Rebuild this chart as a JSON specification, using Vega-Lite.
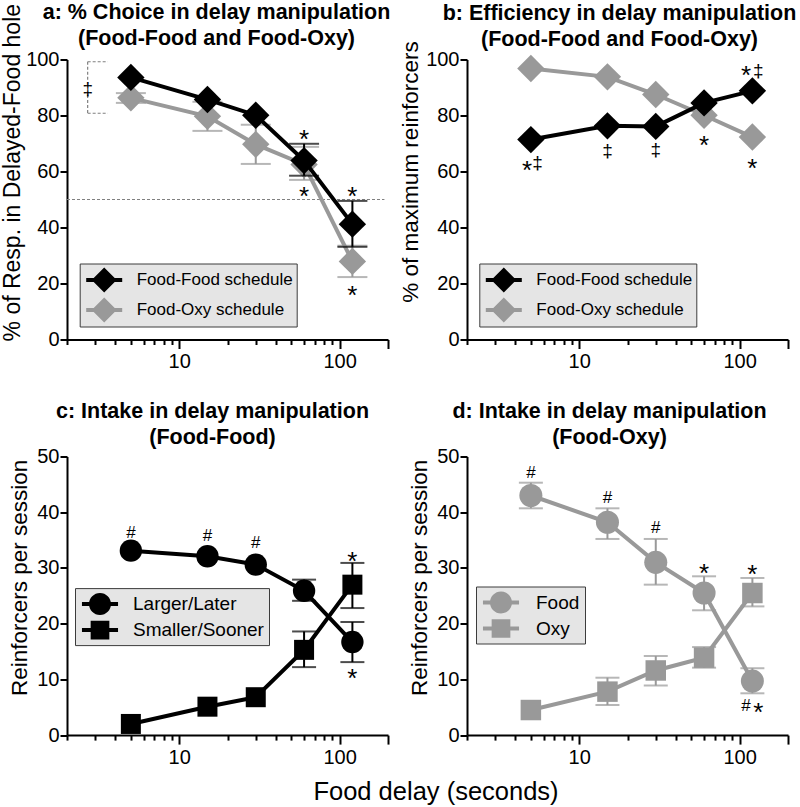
{
  "$schema": "https://vega.github.io/schema/vega-lite/v6.json",
  "padding": {"left": 0, "top": 1.5, "right": 0, "bottom": 0},
  "config": {
    "font": "Liberation Sans",
    "view": {"stroke": null},
    "axis": {"grid": false, "domainColor": "#000000", "domainWidth": 2, "tickColor": "#000000", "tickWidth": 2, "labelColor": "#000000", "titleColor": "#000000", "labelFontSize": 20, "titleFontSize": 22.5, "titleFontWeight": "normal", "labelFont": "Liberation Sans", "titleFont": "Liberation Sans"},
    "title": {"fontSize": 21.5, "fontWeight": "bold", "color": "#000000", "lineHeight": 26, "anchor": "middle", "font": "Liberation Sans", "frame": "group"},
    "legend": {"fillColor": "#e5e5e5", "strokeColor": "#3c3c3c", "labelColor": "#000000", "labelFont": "Liberation Sans", "symbolStrokeWidth": 0},
    "text": {"font": "Liberation Sans"}
  },
  "datasets": {
    "choice": [
      {"x": 5, "y": 86.3, "lo": 84.5, "hi": 88.0, "s": "Food-Oxy schedule"},
      {"x": 15, "y": 79.7, "lo": 74.5, "hi": 84.9, "s": "Food-Oxy schedule"},
      {"x": 30, "y": 69.7, "lo": 62.7, "hi": 76.7, "s": "Food-Oxy schedule"},
      {"x": 60, "y": 62.5, "lo": 57.0, "hi": 68.8, "s": "Food-Oxy schedule"},
      {"x": 120, "y": 27.9, "lo": 22.3, "hi": 33.5, "s": "Food-Oxy schedule"},
      {"x": 5, "y": 93.6, "lo": null, "hi": null, "s": "Food-Food schedule"},
      {"x": 15, "y": 85.7, "lo": null, "hi": null, "s": "Food-Food schedule"},
      {"x": 30, "y": 80.1, "lo": null, "hi": null, "s": "Food-Food schedule"},
      {"x": 60, "y": 63.9, "lo": 58.5, "hi": 69.9, "s": "Food-Food schedule"},
      {"x": 120, "y": 41.2, "lo": 33.1, "hi": 49.5, "s": "Food-Food schedule"}
    ],
    "eff": [
      {"x": 5, "y": 96.8, "s": "Food-Oxy schedule"},
      {"x": 15, "y": 93.8, "s": "Food-Oxy schedule"},
      {"x": 30, "y": 87.5, "s": "Food-Oxy schedule"},
      {"x": 60, "y": 80.1, "s": "Food-Oxy schedule"},
      {"x": 120, "y": 72.3, "s": "Food-Oxy schedule"},
      {"x": 5, "y": 71.4, "s": "Food-Food schedule"},
      {"x": 15, "y": 76.3, "s": "Food-Food schedule"},
      {"x": 30, "y": 76.1, "s": "Food-Food schedule"},
      {"x": 60, "y": 84.5, "s": "Food-Food schedule"},
      {"x": 120, "y": 88.8, "s": "Food-Food schedule"}
    ],
    "ff": [
      {"x": 5, "y": 33.1, "lo": null, "hi": null, "s": "Larger/Later"},
      {"x": 15, "y": 32.1, "lo": null, "hi": null, "s": "Larger/Later"},
      {"x": 30, "y": 30.6, "lo": null, "hi": null, "s": "Larger/Later"},
      {"x": 60, "y": 25.9, "lo": 24.1, "hi": 27.9, "s": "Larger/Later"},
      {"x": 120, "y": 16.7, "lo": 13.1, "hi": 20.3, "s": "Larger/Later"},
      {"x": 5, "y": 2.0, "lo": null, "hi": null, "s": "Smaller/Sooner"},
      {"x": 15, "y": 5.1, "lo": null, "hi": null, "s": "Smaller/Sooner"},
      {"x": 30, "y": 6.8, "lo": null, "hi": null, "s": "Smaller/Sooner"},
      {"x": 60, "y": 15.3, "lo": 12.2, "hi": 18.6, "s": "Smaller/Sooner"},
      {"x": 120, "y": 27.0, "lo": 22.8, "hi": 30.9, "s": "Smaller/Sooner"}
    ],
    "fo": [
      {"x": 5, "y": 43.0, "lo": 40.7, "hi": 45.3, "s": "Food"},
      {"x": 15, "y": 38.2, "lo": 35.2, "hi": 40.7, "s": "Food"},
      {"x": 30, "y": 31.0, "lo": 27.0, "hi": 35.2, "s": "Food"},
      {"x": 60, "y": 25.5, "lo": 22.4, "hi": 28.5, "s": "Food"},
      {"x": 120, "y": 9.7, "lo": 7.5, "hi": 12.0, "s": "Food"},
      {"x": 5, "y": 4.5, "lo": null, "hi": null, "s": "Oxy"},
      {"x": 15, "y": 7.8, "lo": 5.4, "hi": 10.3, "s": "Oxy"},
      {"x": 30, "y": 11.6, "lo": 8.9, "hi": 14.2, "s": "Oxy"},
      {"x": 60, "y": 13.9, "lo": 12.1, "hi": 15.8, "s": "Oxy"},
      {"x": 120, "y": 25.5, "lo": 23.1, "hi": 28.2, "s": "Oxy"}
    ],
    "vr": [
      {"p": "a", "x": 2.69, "y": 99.2, "y2": 92.7},
      {"p": "a", "x": 2.69, "y": 87.3, "y2": 80.8}
    ],
    "hr": [
      {"p": "a", "x": 2.69, "x2": 3.59, "y": 99.2},
      {"p": "a", "x": 2.69, "x2": 3.59, "y": 80.8},
      {"p": "a", "x": 2, "x2": 190, "y": 50}
    ],
    "ann": [
      {"p": "a", "x": 60, "y": 74.0, "t": "*", "k": "star"},
      {"p": "a", "x": 60, "y": 53.6, "t": "*", "k": "star"},
      {"p": "a", "x": 120, "y": 53.6, "t": "*", "k": "star"},
      {"p": "a", "x": 120, "y": 18.3, "t": "*", "k": "star"},
      {"p": "a", "x": 2.69, "y": 89.7, "t": "‡", "k": "sym"},
      {"p": "b", "x": 4.73, "y": 62.9, "t": "*", "k": "star"},
      {"p": "b", "x": 5.51, "y": 63.3, "t": "‡", "k": "sym"},
      {"p": "b", "x": 15, "y": 67.7, "t": "‡", "k": "sym"},
      {"p": "b", "x": 30, "y": 67.9, "t": "‡", "k": "sym"},
      {"p": "b", "x": 60, "y": 71.9, "t": "*", "k": "star"},
      {"p": "b", "x": 120, "y": 63.5, "t": "*", "k": "star"},
      {"p": "b", "x": 109.5, "y": 96.9, "t": "*", "k": "star"},
      {"p": "b", "x": 130.6, "y": 96.25, "t": "‡", "k": "sym"},
      {"p": "c", "x": 5, "y": 36.5, "t": "#", "k": "sym"},
      {"p": "c", "x": 15, "y": 35.9, "t": "#", "k": "sym"},
      {"p": "c", "x": 30, "y": 34.6, "t": "#", "k": "sym"},
      {"p": "c", "x": 120, "y": 32.4, "t": "*", "k": "star"},
      {"p": "c", "x": 120, "y": 11.4, "t": "*", "k": "star"},
      {"p": "d", "x": 5, "y": 47.3, "t": "#", "k": "sym"},
      {"p": "d", "x": 15, "y": 42.8, "t": "#", "k": "sym"},
      {"p": "d", "x": 30, "y": 37.3, "t": "#", "k": "sym"},
      {"p": "d", "x": 60, "y": 30.3, "t": "*", "k": "star"},
      {"p": "d", "x": 120, "y": 30.1, "t": "*", "k": "star"},
      {"p": "d", "x": 109.5, "y": 5.4, "t": "#", "k": "sym"},
      {"p": "d", "x": 130.6, "y": 5.3, "t": "*", "k": "star"}
    ]
  },
  "columns": 2,
  "spacing": {"row": 117, "column": 79},
  "bounds": "flush",
  "resolve": {"scale": {"color": "independent", "shape": "independent", "x": "independent", "y": "independent"}},
  "concat": [
    {
      "width": 321, "height": 280,
      "title": {"text": ["a: % Choice in delay manipulation", "(Food-Food and Food-Oxy)"], "dx": -11, "offset": -45.6},
      "encoding": {"x": {"field": "x", "type": "quantitative", "scale": {"type": "log", "domain": [2, 200]},
        "axis": {"title": null, "values": [2,3,4,5,6,7,8,9,10,20,30,40,50,60,70,80,90,100,200], "labelExpr": "datum.value == 10 || datum.value == 100 ? format(datum.value, 'd') : ''", "tickSize": {"condition": {"test": "datum.value == 10 || datum.value == 100 || datum.value == 200", "value": 9}, "value": 5}, "labelPadding": 3, "labelOverlap": false, "labelFlush": false}}},
      "layer": [
        {"data": {"name": "hr"}, "transform": [{"filter": "datum.p == 'a'"}],
         "mark": {"type": "rule", "color": "#808080", "strokeWidth": 1.2, "strokeDash": [3, 2]},
         "encoding": {"x2": {"field": "x2"}, "y": {"field": "y", "type": "quantitative", "scale": {"domain": [0, 100]},
           "axis": {"title": "% of Resp. in Delayed-Food hole", "titleFontSize": 23, "values": [0,10,20,30,40,50,60,70,80,90,100], "labelExpr": "datum.value % 20 == 0 ? datum.label : ''", "tickSize": {"condition": {"test": "datum.value % 20 == 0", "value": 7}, "value": 4}, "labelPadding": 1, "titleX": -48, "titleY": 112.7, "titleAlign": "center", "titleBaseline": "alphabetic", "titleAngle": 270}}}},
        {"data": {"name": "vr"}, "transform": [{"filter": "datum.p == 'a'"}],
         "mark": {"type": "rule", "color": "#808080", "strokeWidth": 1.2, "strokeDash": [3, 2]},
         "encoding": {"y": {"field": "y", "type": "quantitative", "scale": {"domain": [0, 100]}}, "y2": {"field": "y2"}}},
        {"data": {"name": "choice"}, "transform": [{"filter": "datum.s == 'Food-Oxy schedule'"}],
         "layer": [
           {"mark": {"type": "rule", "strokeWidth": 2, "color": "#999999"}, "encoding": {"y": {"field": "lo", "type": "quantitative", "scale": {"domain": [0, 100]}}, "y2": {"field": "hi"}}},
           {"mark": {"type": "tick", "orient": "horizontal", "size": 30, "thickness": 2, "color": "#999999"}, "encoding": {"y": {"field": "lo", "type": "quantitative", "scale": {"domain": [0, 100]}}}},
           {"mark": {"type": "tick", "orient": "horizontal", "size": 30, "thickness": 2, "color": "#999999"}, "encoding": {"y": {"field": "hi", "type": "quantitative", "scale": {"domain": [0, 100]}}}},
           {"mark": {"type": "line", "strokeWidth": 4, "color": "#999999"}, "encoding": {"y": {"field": "y", "type": "quantitative", "scale": {"domain": [0, 100]}}}},
           {"mark": {"type": "point", "shape": "diamond", "filled": true, "size": 750, "opacity": 1}, "encoding": {"y": {"field": "y", "type": "quantitative", "scale": {"domain": [0, 100]}},
             "color": {"field": "s", "type": "nominal", "scale": {"domain": ["Food-Food schedule", "Food-Oxy schedule"], "range": ["#000000", "#999999"]}, "legend": {"title": null, "orient": "none", "legendX": 12.7, "legendY": 204, "padding": 4, "symbolOffset": 8, "labelOffset": 20, "rowPadding": 5, "symbolSize": 625, "labelFontSize": 17, "symbolType": "M-1.44,-0.16H1.44V0.16H-1.44Z M-1,0L0,-1L1,0L0,1Z", "encode": {"symbols": {"update": {"shape": {"value": "M-1.44,-0.16H1.44V0.16H-1.44Z M-1,0L0,-1L1,0L0,1Z"}}}}}}}}
         ]},
        {"data": {"name": "choice"}, "transform": [{"filter": "datum.s == 'Food-Food schedule'"}],
         "layer": [
           {"mark": {"type": "rule", "strokeWidth": 2, "color": "#000000"}, "encoding": {"y": {"field": "lo", "type": "quantitative", "scale": {"domain": [0, 100]}}, "y2": {"field": "hi"}}},
           {"mark": {"type": "tick", "orient": "horizontal", "size": 30, "thickness": 2, "color": "#000000"}, "encoding": {"y": {"field": "lo", "type": "quantitative", "scale": {"domain": [0, 100]}}}},
           {"mark": {"type": "tick", "orient": "horizontal", "size": 30, "thickness": 2, "color": "#000000"}, "encoding": {"y": {"field": "hi", "type": "quantitative", "scale": {"domain": [0, 100]}}}},
           {"mark": {"type": "line", "strokeWidth": 4, "color": "#000000"}, "encoding": {"y": {"field": "y", "type": "quantitative", "scale": {"domain": [0, 100]}}}},
           {"mark": {"type": "point", "shape": "diamond", "filled": true, "size": 750, "opacity": 1}, "encoding": {"y": {"field": "y", "type": "quantitative", "scale": {"domain": [0, 100]}},
             "color": {"field": "s", "type": "nominal", "legend": {"title": null, "orient": "none", "legendX": 12.7, "legendY": 204, "padding": 4, "symbolOffset": 8, "labelOffset": 20, "rowPadding": 5, "symbolSize": 625, "labelFontSize": 17, "symbolType": "M-1.44,-0.16H1.44V0.16H-1.44Z M-1,0L0,-1L1,0L0,1Z", "encode": {"symbols": {"update": {"shape": {"value": "M-1.44,-0.16H1.44V0.16H-1.44Z M-1,0L0,-1L1,0L0,1Z"}}}}}}}}
         ]},
        {"data": {"name": "ann"}, "transform": [{"filter": "datum.p == 'a' && datum.k == 'star'"}],
         "mark": {"type": "text", "fontSize": 26, "baseline": "middle", "dy": 7.5, "color": "#000000"},
         "encoding": {"y": {"field": "y", "type": "quantitative", "scale": {"domain": [0, 100]}}, "text": {"field": "t"}}},
        {"data": {"name": "ann"}, "transform": [{"filter": "datum.p == 'a' && datum.k == 'sym'"}],
         "mark": {"type": "text", "fontSize": 19, "baseline": "middle", "dy": 1, "color": "#000000"},
         "encoding": {"y": {"field": "y", "type": "quantitative", "scale": {"domain": [0, 100]}}, "text": {"field": "t"}}}
      ]
    },
    {
      "width": 321, "height": 280,
      "title": {"text": ["b: Efficiency in delay manipulation", "(Food-Food and Food-Oxy)"], "dx": -8, "offset": -9.6},
      "encoding": {"x": {"field": "x", "type": "quantitative", "scale": {"type": "log", "domain": [2, 200]},
        "axis": {"title": null, "values": [2,3,4,5,6,7,8,9,10,20,30,40,50,60,70,80,90,100,200], "labelExpr": "datum.value == 10 || datum.value == 100 ? format(datum.value, 'd') : ''", "tickSize": {"condition": {"test": "datum.value == 10 || datum.value == 100 || datum.value == 200", "value": 9}, "value": 5}, "labelPadding": 3, "labelOverlap": false, "labelFlush": false}}},
      "layer": [
        {"data": {"name": "eff"}, "transform": [{"filter": "datum.s == 'Food-Oxy schedule'"}],
         "layer": [
           {"mark": {"type": "line", "strokeWidth": 4, "color": "#999999"}, "encoding": {"y": {"field": "y", "type": "quantitative", "scale": {"domain": [0, 100]},
             "axis": {"title": "% of maximum reinforcers", "values": [0,10,20,30,40,50,60,70,80,90,100], "labelExpr": "datum.value % 20 == 0 ? datum.label : ''", "tickSize": {"condition": {"test": "datum.value % 20 == 0", "value": 7}, "value": 4}, "labelPadding": 1, "titleX": -50, "titleY": 112, "titleAlign": "center", "titleBaseline": "alphabetic", "titleAngle": 270}}}},
           {"mark": {"type": "point", "shape": "diamond", "filled": true, "size": 750, "opacity": 1}, "encoding": {"y": {"field": "y", "type": "quantitative", "scale": {"domain": [0, 100]}},
             "color": {"field": "s", "type": "nominal", "scale": {"domain": ["Food-Food schedule", "Food-Oxy schedule"], "range": ["#000000", "#999999"]}, "legend": {"title": null, "orient": "none", "legendX": 12.3, "legendY": 204, "padding": 4, "symbolOffset": 8, "labelOffset": 20, "rowPadding": 5, "symbolSize": 625, "labelFontSize": 17, "symbolType": "M-1.44,-0.16H1.44V0.16H-1.44Z M-1,0L0,-1L1,0L0,1Z", "encode": {"symbols": {"update": {"shape": {"value": "M-1.44,-0.16H1.44V0.16H-1.44Z M-1,0L0,-1L1,0L0,1Z"}}}}}}}}
         ]},
        {"data": {"name": "eff"}, "transform": [{"filter": "datum.s == 'Food-Food schedule'"}],
         "layer": [
           {"mark": {"type": "line", "strokeWidth": 4, "color": "#000000"}, "encoding": {"y": {"field": "y", "type": "quantitative", "scale": {"domain": [0, 100]}}}},
           {"mark": {"type": "point", "shape": "diamond", "filled": true, "size": 750, "opacity": 1}, "encoding": {"y": {"field": "y", "type": "quantitative", "scale": {"domain": [0, 100]}},
             "color": {"field": "s", "type": "nominal", "legend": {"title": null, "orient": "none", "legendX": 12.3, "legendY": 204, "padding": 4, "symbolOffset": 8, "labelOffset": 20, "rowPadding": 5, "symbolSize": 625, "labelFontSize": 17, "symbolType": "M-1.44,-0.16H1.44V0.16H-1.44Z M-1,0L0,-1L1,0L0,1Z", "encode": {"symbols": {"update": {"shape": {"value": "M-1.44,-0.16H1.44V0.16H-1.44Z M-1,0L0,-1L1,0L0,1Z"}}}}}}}}
         ]},
        {"data": {"name": "ann"}, "transform": [{"filter": "datum.p == 'b' && datum.k == 'star'"}],
         "mark": {"type": "text", "fontSize": 26, "baseline": "middle", "dy": 7.5, "color": "#000000"},
         "encoding": {"y": {"field": "y", "type": "quantitative", "scale": {"domain": [0, 100]}}, "text": {"field": "t"}}},
        {"data": {"name": "ann"}, "transform": [{"filter": "datum.p == 'b' && datum.k == 'sym'"}],
         "mark": {"type": "text", "fontSize": 19, "baseline": "middle", "dy": 1, "color": "#000000"},
         "encoding": {"y": {"field": "y", "type": "quantitative", "scale": {"domain": [0, 100]}}, "text": {"field": "t"}}}
      ]
    },
    {
      "width": 321, "height": 278.6,
      "title": {"text": ["c: Intake in delay manipulation", "(Food-Food)"], "dx": -15, "offset": -2.4},
      "encoding": {"x": {"field": "x", "type": "quantitative", "scale": {"type": "log", "domain": [2, 200]},
        "axis": {"title": "Food delay (seconds)", "titleFontSize": 25.5, "titleX": 368.5, "titleY": 64, "titleAlign": "center", "titleBaseline": "alphabetic", "values": [2,3,4,5,6,7,8,9,10,20,30,40,50,60,70,80,90,100,200], "labelExpr": "datum.value == 10 || datum.value == 100 ? format(datum.value, 'd') : ''", "tickSize": {"condition": {"test": "datum.value == 10 || datum.value == 100 || datum.value == 200", "value": 9}, "value": 5}, "labelPadding": 3, "labelOverlap": false, "labelFlush": false}}},
      "layer": [
        {"data": {"name": "ff"}, "transform": [{"filter": "datum.s == 'Larger/Later'"}],
         "layer": [
           {"mark": {"type": "rule", "strokeWidth": 2, "color": "#000000"}, "encoding": {"y": {"field": "lo", "type": "quantitative", "scale": {"domain": [0, 50]},
             "axis": {"title": "Reinforcers per session", "values": [0,5,10,15,20,25,30,35,40,45,50], "labelExpr": "datum.value % 10 == 0 ? datum.label : ''", "tickSize": {"condition": {"test": "datum.value % 10 == 0", "value": 7}, "value": 4}, "labelPadding": 1, "titleX": -41, "titleY": 120.8, "titleAlign": "center", "titleBaseline": "alphabetic", "titleAngle": 270}},
             "y2": {"field": "hi"}}},
           {"mark": {"type": "tick", "orient": "horizontal", "size": 24, "thickness": 2, "color": "#000000"}, "encoding": {"y": {"field": "lo", "type": "quantitative", "scale": {"domain": [0, 50]}}}},
           {"mark": {"type": "tick", "orient": "horizontal", "size": 24, "thickness": 2, "color": "#000000"}, "encoding": {"y": {"field": "hi", "type": "quantitative", "scale": {"domain": [0, 50]}}}},
           {"mark": {"type": "line", "strokeWidth": 4, "color": "#000000"}, "encoding": {"y": {"field": "y", "type": "quantitative", "scale": {"domain": [0, 50]}}}},
           {"mark": {"type": "point", "shape": "circle", "filled": true, "size": 500, "opacity": 1, "color": "#000000"}, "encoding": {"y": {"field": "y", "type": "quantitative", "scale": {"domain": [0, 50]}}}}
         ]},
        {"data": {"name": "ff"}, "transform": [{"filter": "datum.s == 'Smaller/Sooner'"}],
         "layer": [
           {"mark": {"type": "rule", "strokeWidth": 2, "color": "#000000"}, "encoding": {"y": {"field": "lo", "type": "quantitative", "scale": {"domain": [0, 50]}}, "y2": {"field": "hi"}}},
           {"mark": {"type": "tick", "orient": "horizontal", "size": 24, "thickness": 2, "color": "#000000"}, "encoding": {"y": {"field": "lo", "type": "quantitative", "scale": {"domain": [0, 50]}}}},
           {"mark": {"type": "tick", "orient": "horizontal", "size": 24, "thickness": 2, "color": "#000000"}, "encoding": {"y": {"field": "hi", "type": "quantitative", "scale": {"domain": [0, 50]}}}},
           {"mark": {"type": "line", "strokeWidth": 4, "color": "#000000"}, "encoding": {"y": {"field": "y", "type": "quantitative", "scale": {"domain": [0, 50]}}}},
           {"mark": {"type": "point", "shape": "square", "filled": true, "size": 400, "opacity": 1, "color": "#000000"}, "encoding": {"y": {"field": "y", "type": "quantitative", "scale": {"domain": [0, 50]}}}}
         ]},
        {"data": {"name": "ff"}, "transform": [{"filter": "datum.x < 0"}],
         "mark": {"type": "point", "filled": true, "opacity": 1},
         "encoding": {"y": {"field": "y", "type": "quantitative", "scale": {"domain": [0, 50]}},
           "color": {"field": "s", "type": "nominal", "scale": {"domain": ["Larger/Later", "Smaller/Sooner"], "range": ["#000000", "#000000"]}, "legend": {"title": null, "orient": "none", "legendX": 8, "legendY": 131.6, "padding": 5, "symbolOffset": 9, "labelOffset": 22, "rowPadding": 4, "symbolSize": 484, "labelFontSize": 19}},
           "shape": {"field": "s", "type": "nominal", "scale": {"domain": ["Larger/Later", "Smaller/Sooner"], "range": ["M-1.64,-0.18H1.64V0.18H-1.64Z M-1,0A1,1,0,1,1,1,0A1,1,0,1,1,-1,0Z", "M-1.64,-0.18H1.64V0.18H-1.64Z M-0.85,-0.85H0.85V0.85H-0.85Z"]}, "legend": {"title": null, "orient": "none", "legendX": 8, "legendY": 131.6, "padding": 5, "symbolOffset": 9, "labelOffset": 22, "rowPadding": 4, "symbolSize": 484, "labelFontSize": 19}}}},
        {"data": {"name": "ann"}, "transform": [{"filter": "datum.p == 'c' && datum.k == 'star'"}],
         "mark": {"type": "text", "fontSize": 26, "baseline": "middle", "dy": 7.5, "color": "#000000"},
         "encoding": {"y": {"field": "y", "type": "quantitative", "scale": {"domain": [0, 50]}}, "text": {"field": "t"}}},
        {"data": {"name": "ann"}, "transform": [{"filter": "datum.p == 'c' && datum.k == 'sym'"}],
         "mark": {"type": "text", "fontSize": 17, "baseline": "middle", "dy": 1, "color": "#000000"},
         "encoding": {"y": {"field": "y", "type": "quantitative", "scale": {"domain": [0, 50]}}, "text": {"field": "t"}}}
      ]
    },
    {
      "width": 321, "height": 278.6,
      "title": {"text": ["d: Intake in delay manipulation", "(Food-Oxy)"], "dx": -18, "offset": -2.4},
      "encoding": {"x": {"field": "x", "type": "quantitative", "scale": {"type": "log", "domain": [2, 200]},
        "axis": {"title": null, "values": [2,3,4,5,6,7,8,9,10,20,30,40,50,60,70,80,90,100,200], "labelExpr": "datum.value == 10 || datum.value == 100 ? format(datum.value, 'd') : ''", "tickSize": {"condition": {"test": "datum.value == 10 || datum.value == 100 || datum.value == 200", "value": 9}, "value": 5}, "labelPadding": 3, "labelOverlap": false, "labelFlush": false}}},
      "layer": [
        {"data": {"name": "fo"}, "transform": [{"filter": "datum.s == 'Food'"}],
         "layer": [
           {"mark": {"type": "rule", "strokeWidth": 2, "color": "#999999"}, "encoding": {"y": {"field": "lo", "type": "quantitative", "scale": {"domain": [0, 50]},
             "axis": {"title": "Reinforcers per session", "values": [0,5,10,15,20,25,30,35,40,45,50], "labelExpr": "datum.value % 10 == 0 ? datum.label : ''", "tickSize": {"condition": {"test": "datum.value % 10 == 0", "value": 7}, "value": 4}, "labelPadding": 1, "titleX": -41, "titleY": 120.8, "titleAlign": "center", "titleBaseline": "alphabetic", "titleAngle": 270}},
             "y2": {"field": "hi"}}},
           {"mark": {"type": "tick", "orient": "horizontal", "size": 24, "thickness": 2, "color": "#999999"}, "encoding": {"y": {"field": "lo", "type": "quantitative", "scale": {"domain": [0, 50]}}}},
           {"mark": {"type": "tick", "orient": "horizontal", "size": 24, "thickness": 2, "color": "#999999"}, "encoding": {"y": {"field": "hi", "type": "quantitative", "scale": {"domain": [0, 50]}}}},
           {"mark": {"type": "line", "strokeWidth": 4, "color": "#999999"}, "encoding": {"y": {"field": "y", "type": "quantitative", "scale": {"domain": [0, 50]}}}},
           {"mark": {"type": "point", "shape": "circle", "filled": true, "size": 530, "opacity": 1, "color": "#999999"}, "encoding": {"y": {"field": "y", "type": "quantitative", "scale": {"domain": [0, 50]}}}}
         ]},
        {"data": {"name": "fo"}, "transform": [{"filter": "datum.s == 'Oxy'"}],
         "layer": [
           {"mark": {"type": "rule", "strokeWidth": 2, "color": "#999999"}, "encoding": {"y": {"field": "lo", "type": "quantitative", "scale": {"domain": [0, 50]}}, "y2": {"field": "hi"}}},
           {"mark": {"type": "tick", "orient": "horizontal", "size": 24, "thickness": 2, "color": "#999999"}, "encoding": {"y": {"field": "lo", "type": "quantitative", "scale": {"domain": [0, 50]}}}},
           {"mark": {"type": "tick", "orient": "horizontal", "size": 24, "thickness": 2, "color": "#999999"}, "encoding": {"y": {"field": "hi", "type": "quantitative", "scale": {"domain": [0, 50]}}}},
           {"mark": {"type": "line", "strokeWidth": 4, "color": "#999999"}, "encoding": {"y": {"field": "y", "type": "quantitative", "scale": {"domain": [0, 50]}}}},
           {"mark": {"type": "point", "shape": "square", "filled": true, "size": 420, "opacity": 1, "color": "#999999"}, "encoding": {"y": {"field": "y", "type": "quantitative", "scale": {"domain": [0, 50]}}}}
         ]},
        {"data": {"name": "fo"}, "transform": [{"filter": "datum.x < 0"}],
         "mark": {"type": "point", "filled": true, "opacity": 1},
         "encoding": {"y": {"field": "y", "type": "quantitative", "scale": {"domain": [0, 50]}},
           "color": {"field": "s", "type": "nominal", "scale": {"domain": ["Food", "Oxy"], "range": ["#999999", "#999999"]}, "legend": {"title": null, "orient": "none", "legendX": 9, "legendY": 130, "padding": 5, "symbolOffset": 9, "labelOffset": 24, "rowPadding": 4, "symbolSize": 484, "labelFontSize": 19}},
           "shape": {"field": "s", "type": "nominal", "scale": {"domain": ["Food", "Oxy"], "range": ["M-1.64,-0.18H1.64V0.18H-1.64Z M-1,0A1,1,0,1,1,1,0A1,1,0,1,1,-1,0Z", "M-1.64,-0.18H1.64V0.18H-1.64Z M-0.85,-0.85H0.85V0.85H-0.85Z"]}, "legend": {"title": null, "orient": "none", "legendX": 9, "legendY": 130, "padding": 5, "symbolOffset": 9, "labelOffset": 24, "rowPadding": 4, "symbolSize": 484, "labelFontSize": 19}}}},
        {"data": {"name": "ann"}, "transform": [{"filter": "datum.p == 'd' && datum.k == 'star'"}],
         "mark": {"type": "text", "fontSize": 26, "baseline": "middle", "dy": 7.5, "color": "#000000"},
         "encoding": {"y": {"field": "y", "type": "quantitative", "scale": {"domain": [0, 50]}}, "text": {"field": "t"}}},
        {"data": {"name": "ann"}, "transform": [{"filter": "datum.p == 'd' && datum.k == 'sym'"}],
         "mark": {"type": "text", "fontSize": 17, "baseline": "middle", "dy": 1, "color": "#000000"},
         "encoding": {"y": {"field": "y", "type": "quantitative", "scale": {"domain": [0, 50]}}, "text": {"field": "t"}}}
      ]
    }
  ]
}
